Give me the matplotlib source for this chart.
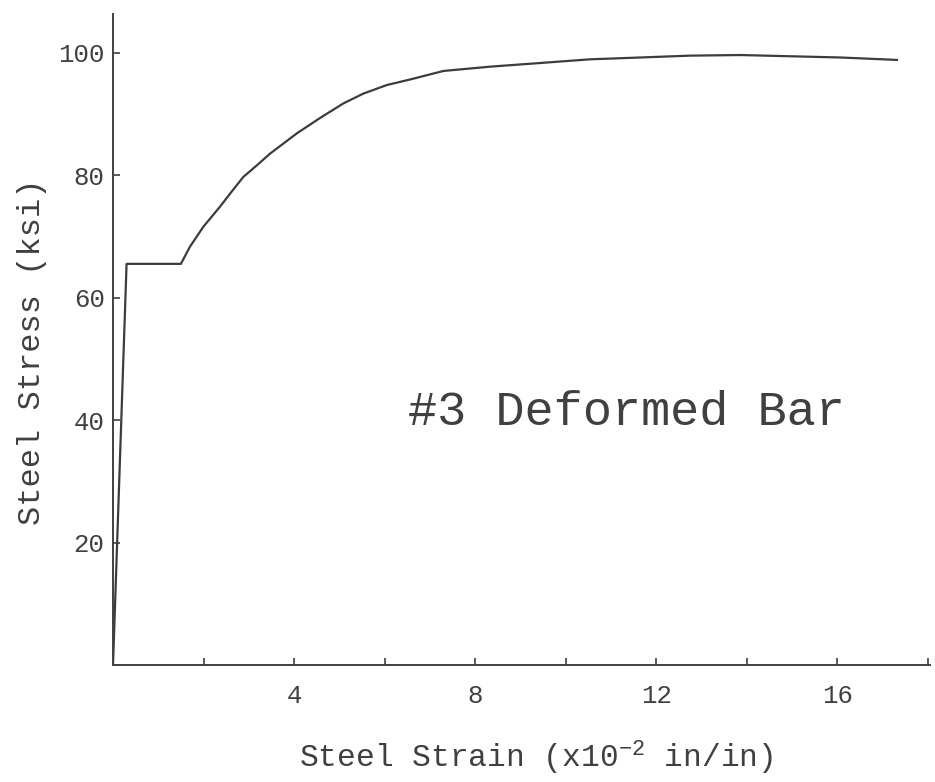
import matplotlib
matplotlib.use("Agg")
import matplotlib.pyplot as plt

# Data
strain = [0, 0.3, 1.5, 1.70, 2.0, 2.36, 2.59, 2.88, 3.18, 3.47, 4.06, 4.57, 5.09,
          5.53, 6.05, 6.56, 7.3, 7.89, 8.33, 9.44, 10.54, 11.65, 12.75, 13.86,
          14.96, 16.07, 17.32]
stress = [0, 65.5, 65.5, 68.3, 71.6, 74.8, 77.0, 79.7, 81.6, 83.5, 86.8, 89.3, 91.7,
          93.3, 94.7, 95.6, 97.0, 97.4, 97.7, 98.3, 98.9, 99.2, 99.5, 99.6,
          99.4, 99.2, 98.8]
x_ticks_major = [4, 8, 12, 16]
x_ticks_minor = [2, 6, 10, 14, 18]
y_ticks = [20, 40, 60, 80, 100]

plt.rcParams['font.family'] = ['Liberation Mono', 'DejaVu Sans Mono']
plt.rcParams['mathtext.default'] = 'regular'

ink = '#404040'
fig = plt.figure(figsize=(9.35, 7.82), dpi=100)
ax = fig.add_axes([113/935, 1 - 665/782, (930-113)/935, (665-14)/782])

ax.plot(strain, stress, color='#3c3c3c', linewidth=1.6)

ax.set_xlim(0, 18.05)
ax.set_ylim(0, 106.3)
for s in ['top', 'right']:
    ax.spines[s].set_visible(False)
for s in ['left', 'bottom']:
    ax.spines[s].set_color(ink)
    ax.spines[s].set_linewidth(1.4)

ax.set_xticks(x_ticks_major)
ax.set_xticks(x_ticks_minor, minor=True)
ax.set_yticks(y_ticks)
ax.tick_params(axis='both', which='both', direction='in', length=5, width=1.2,
               color=ink, labelcolor=ink, labelsize=18.5)
ax.tick_params(axis='x', which='both', pad=14)
ax.tick_params(axis='y', pad=6)

ax.text(-0.099, 0.481, 'Steel Stress (ksi)', transform=ax.transAxes, rotation=90,
        ha='center', va='center', fontsize=23, color=ink)
ax.text(0.518, -0.143, 'Steel Strain (x10$^{-2}$ in/in)', transform=ax.transAxes,
        ha='center', va='center', fontsize=22.5, color=ink)

ax.text((408-113)/817, (665-412)/651, '#3 Deformed Bar', transform=ax.transAxes,
        ha='left', va='center', fontsize=35, color=ink)

fig.savefig('out.png', dpi=100)
